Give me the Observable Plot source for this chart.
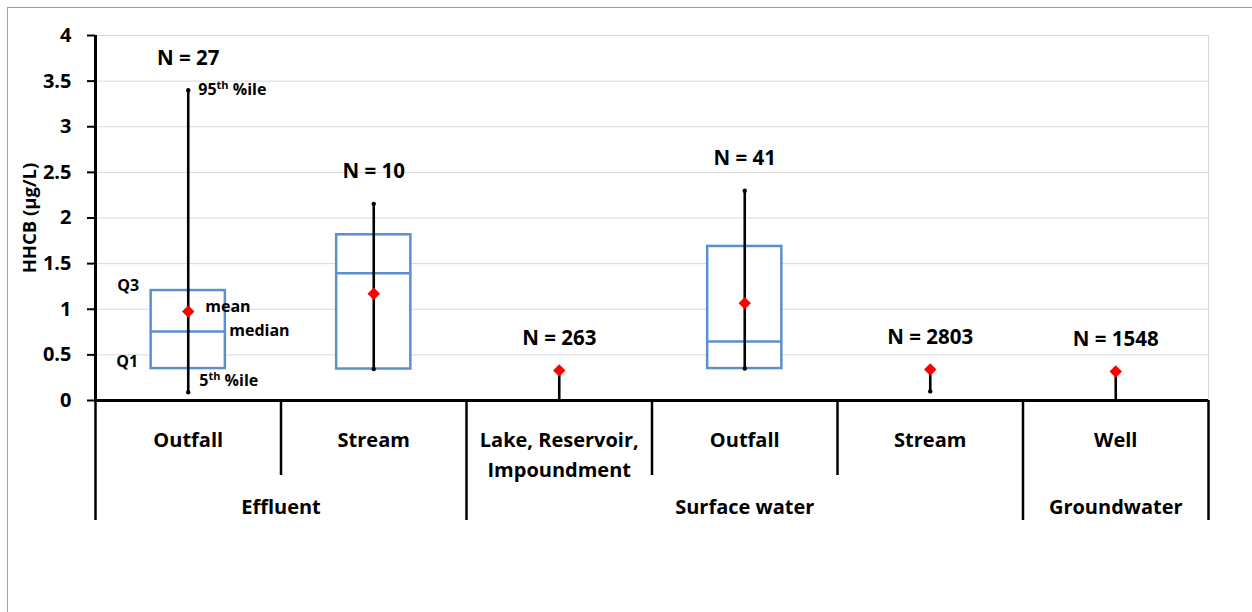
<!DOCTYPE html>
<html>
<head>
<meta charset="utf-8">
<script src="https://cdn.jsdelivr.net/npm/d3@7"></script>
<script src="https://cdn.jsdelivr.net/npm/@observablehq/plot@0.6"></script>
<style>
  html, body { margin: 0; padding: 0; background: #fff; }
  #wrap { position: relative; width: 1252px; height: 612px; overflow: hidden; background: #fff; }
  #frame { position: absolute; left: 7px; top: 7px; width: 1400px; height: 800px;
           border-top: 1.5px solid #a0a0a0; border-left: 1.5px solid #a0a0a0; box-sizing: border-box; }
  #chart { position: absolute; left: 0; top: 0; }
  #chart svg text { font-family: 'Open Sans', Lato, sans-serif; font-weight: bold; fill: #000; }
  #chart svg g[aria-label="y-axis tick label"] { font-size: 20px !important; }
</style>
</head>
<body>
<div id="wrap"><div id="frame"></div><div id="chart"></div></div>
<script>
// ---- data ----
const categories = ["Outfall", "Stream", "Lake, Reservoir,\nImpoundment", "Outfall", "Stream", "Well"];
const groups     = ["Effluent", "Effluent", "Surface water", "Surface water", "Surface water", "Groundwater"];
const nCounts    = [27, 10, 263, 41, 2803, 1548];
const p5         = [0.09, 0.345, 0.0, 0.35, 0.10, 0.0];
const q1         = [0.35, 0.345, null, 0.35, null, null];
const medians    = [0.756, 1.395, null, 0.647, null, null];
const q3         = [1.205, 1.816, null, 1.688, null, null];
const p95        = [3.40, 2.155, 0.33, 2.30, 0.34, 0.32];
const means      = [0.975, 1.17, 0.33, 1.067, 0.34, 0.318];
const yTicks     = [0, 0.5, 1, 1.5, 2, 2.5, 3, 3.5, 4];
const yLabel     = "HHCB (µg/L)";

const FONT = "'Open Sans', Lato, sans-serif";
const BOX = "#5b8fd0";

const rows = categories.map((c, i) => ({
  i, cat: c, group: groups[i], n: nCounts[i],
  p5: p5[i], q1: q1[i], median: medians[i], q3: q3[i], p95: p95[i], mean: means[i]
}));
const boxRows = rows.filter(d => d.q1 != null);

const groupData = d3.groups(rows, d => d.group).map(([g, rs]) => ({
  name: g, center: d3.mean(rs, d => d.i),
  start: d3.min(rs, d => d.i) - 0.5, end: d3.max(rs, d => d.i) + 0.5
}));
const bounds = d3.range(categories.length + 1).map(k => k - 0.5);
const groupBounds = new Set(groupData.flatMap(g => [g.start, g.end]));
const longBounds = bounds.filter(b => groupBounds.has(b));
const shortBounds = bounds.filter(b => !groupBounds.has(b));

const first = [rows[0]];

const plot = Plot.plot({
  width: 1252,
  height: 612,
  marginLeft: 95,
  marginRight: 44,
  marginTop: 35,
  marginBottom: 212,
  style: { fontFamily: FONT, fontSize: "20px", fontWeight: "bold", background: "transparent", color: "#000" },
  x: { domain: [-0.5, categories.length - 0.5], axis: null },
  y: { domain: [0, 4], axis: null },
  marks: [
    // gridlines
    Plot.ruleY(yTicks.filter(d => d > 0), { stroke: "#d9d9d9", strokeWidth: 1 }),
    Plot.ruleX([categories.length - 0.5], { y1: 0, y2: 4, stroke: "#d9d9d9", strokeWidth: 1 }),
    // y axis
    Plot.axisY(yTicks, { tickSize: 8, tickPadding: 16, tickFormat: d => String(d), strokeWidth: 2, label: null, fontSize: 20 }),
    Plot.text([yLabel], { frameAnchor: "left", textAnchor: "middle", rotate: -90, dx: -65, fontSize: 18.5 }),
    // boxes
    Plot.rect(boxRows, { x1: d => d.i - 0.2, x2: d => d.i + 0.2, y1: "q1", y2: "q3", fill: "white", stroke: BOX, strokeWidth: 2.5 }),
    Plot.ruleY(boxRows, { x1: d => d.i - 0.2, x2: d => d.i + 0.2, y: "median", stroke: BOX, strokeWidth: 2.5 }),
    // whiskers
    Plot.ruleX(rows, { x: "i", y1: "p5", y2: "p95", stroke: "black", strokeWidth: 2.6 }),
    Plot.dot(rows, { x: "i", y: "p95", r: 2.2, fill: "black", stroke: "none" }),
    Plot.dot(rows.filter(d => d.p5 > 0), { x: "i", y: "p5", r: 2.2, fill: "black", stroke: "none" }),
    // means
    Plot.dot(rows, { x: "i", y: "mean", symbol: "diamond2", r: 5.6, fill: "#ff0000", stroke: "none" }),
    // N labels
    Plot.text(rows, { x: "i", y: "p95", text: d => `N = ${d.n}`, dy: -32, fontSize: 20.5 }),
    // annotations of the first box
    Plot.text(first, { x: "i", y: "p95", text: () => "95th %ile", textAnchor: "start", dx: 10, fontSize: 16 }),
    Plot.text(first, { x: "i", y: "mean", text: () => "mean", textAnchor: "start", dx: 17, dy: -5, fontSize: 16 }),
    Plot.text(first, { x: "i", y: "median", text: () => "median", textAnchor: "start", dx: 41, dy: -1, fontSize: 16 }),
    Plot.text(first, { x: "i", y: "p5", text: () => "5th %ile", textAnchor: "start", dx: 11, dy: -11, fontSize: 16 }),
    Plot.text(first, { x: "i", y: "q3", text: () => "Q3", textAnchor: "end", dx: -49, dy: -5, fontSize: 16 }),
    Plot.text(first, { x: "i", y: "q1", text: () => "Q1", textAnchor: "end", dx: -50, dy: -7, fontSize: 16 }),
    // axis baseline + y axis line
    Plot.ruleY([0], { stroke: "black", strokeWidth: 3 }),
    Plot.ruleX([-0.5], { y1: 0, y2: 4, stroke: "black", strokeWidth: 3 }),
    // hierarchical category axis
    Plot.ruleX(shortBounds, { insetTop: 365, insetBottom: -75, stroke: "black", strokeWidth: 2.5 }),
    Plot.ruleX(longBounds, { insetTop: 365, insetBottom: -120, stroke: "black", strokeWidth: 2.5 }),
    Plot.text(rows, { x: "i", text: "cat", frameAnchor: "bottom", lineAnchor: "top", dy: 24.8, lineHeight: 1.5, fontSize: 20 }),
    Plot.text(groupData, { x: "center", text: "name", frameAnchor: "bottom", lineAnchor: "top", dy: 98.8, fontSize: 20 })
  ]
});

// superscript "th" in the percentile annotations
d3.select(plot).selectAll("text").each(function () {
  const t = this.textContent;
  const m = /^(\d+)th (%ile)$/.exec(t);
  if (m && this.children.length === 0) {
    const el = d3.select(this);
    el.text(null);
    el.append("tspan").text(m[1]);
    el.append("tspan").attr("font-size", "11px").attr("dy", "-6").text("th");
    el.append("tspan").attr("dy", "6").text(" " + m[2]);
  }
});

document.getElementById("chart").appendChild(plot);
</script>
</body>
</html>
